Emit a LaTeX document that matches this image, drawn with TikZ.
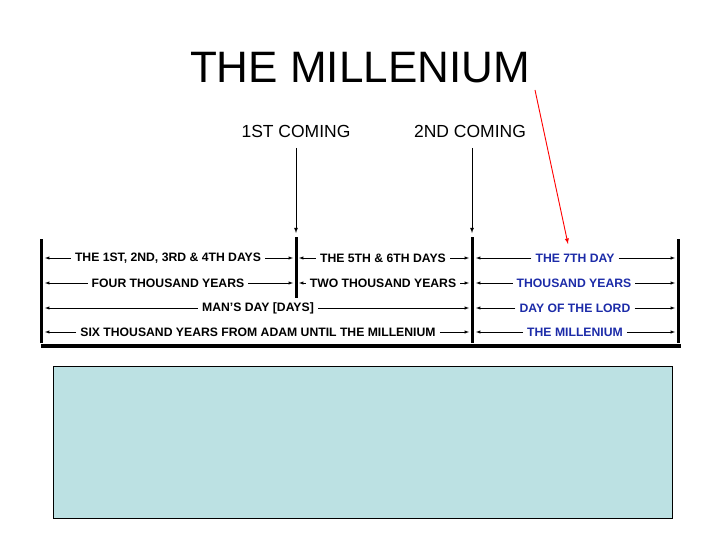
\documentclass[tikz,border=0pt]{standalone}
\usepackage{fontspec}
\setmainfont{Liberation Sans}
\begin{document}
\begin{tikzpicture}[x=1pt,y=-1pt,
  lbl/.style={font=\fontsize{12.2}{12.5}\selectfont\bfseries, inner sep=4pt},
  blbl/.style={lbl, text=dblue},
  bar/.style={line width=3pt},
  arr/.style={-latex, line width=0.5pt},
  head/.style={font=\fontsize{17.5}{18}\selectfont}]
\definecolor{dblue}{HTML}{1C2BA8}
\definecolor{boxblue}{HTML}{BCE1E3}
\useasboundingbox (0,0) rectangle (720,540);
\node[font=\fontsize{44}{46}\selectfont] (title) at (360,68) {THE MILLENIUM};
\node[head] (c1) at (296,131) {1ST COMING};
\node[head] (c2) at (470,131) {2ND COMING};
\coordinate (a1s) at (296,148); \coordinate (a1e) at (296,233);
\coordinate (a2s) at (472,148); \coordinate (a2e) at (472,233);
\draw[arr, line width=0.8pt] (a1s) -- (a1e);
\draw[arr, line width=0.8pt] (a2s) -- (a2e);
\coordinate (rs) at (535,90); \coordinate (re) at (568,244);
\draw[-latex, red, line width=0.9pt] (rs) -- (re);
% bars
\draw[bar] (41,239) coordinate (b1t) -- (41,343) coordinate (b1b);
\draw[bar] (296,237) coordinate (b2t) -- (296,298) coordinate (b2b);
\draw[bar] (472,237) coordinate (b3t) -- (472,343) coordinate (b3b);
\draw[bar] (678,239) coordinate (b4t) -- (678,343) coordinate (b4b);
\draw[line width=4.5pt] (41,346) coordinate (bl) -- (681,346) coordinate (br);
\foreach \nm/\xl/\xr/\yy/\xc/\txt/\st in {
 r1a/45/293/258/168/{THE 1ST, 2ND, 3RD \& 4TH  DAYS}/lbl,
 r1b/299/469/258/383/{THE 5TH \& 6TH DAYS}/lbl,
 r1c/476/675/258/575/{THE 7TH DAY}/blbl,
 r2a/45/293/283/168/{FOUR THOUSAND YEARS}/lbl,
 r2b/299/469/283/383/{TWO THOUSAND YEARS}/lbl,
 r2c/476/675/283/574/{THOUSAND YEARS}/blbl,
 r3a/45/469/308/258/{MAN'S DAY [DAYS]}/lbl,
 r3c/476/675/308/575/{DAY OF THE LORD}/blbl,
 r4a/45/469/332/258/{SIX THOUSAND YEARS FROM ADAM UNTIL THE MILLENIUM}/lbl,
 r4c/476/675/332/575/{THE MILLENIUM}/blbl}{
  \node[\st] (\nm) at (\xc,\yy) {\txt};
  \coordinate (\nm L) at (\xl,\yy);
  \coordinate (\nm R) at (\xr,\yy);
  \draw[arr] (\nm.west) -- (\nm L);
  \draw[arr] (\nm.east) -- (\nm R);
}
\node[draw=black, line width=1pt, fill=boxblue, minimum width=619pt, minimum height=152pt, anchor=north west] (box) at (53,366) {};
\end{tikzpicture}
\end{document}
